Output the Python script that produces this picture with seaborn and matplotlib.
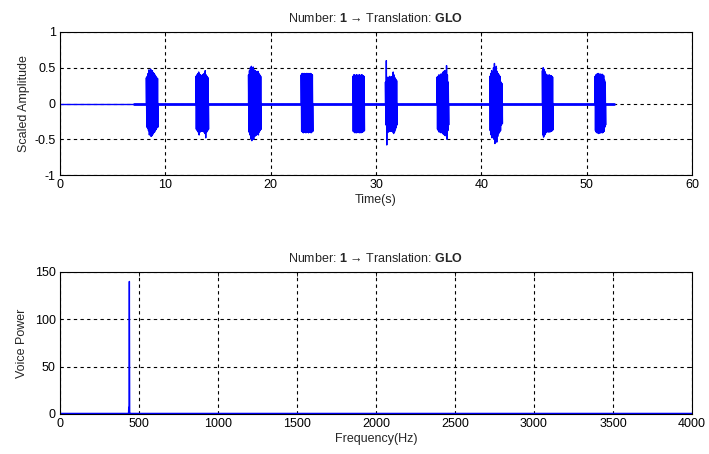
import numpy as np
import pandas as pd
import matplotlib
matplotlib.use("Agg")
import matplotlib.pyplot as plt
import seaborn as sns

# ---------------- data ----------------
quiet_start, quiet_end = 0.0, 7.0          # silent lead-in (s)
signal_end = 52.6                          # end of recording (s)

burst_start = [8.2, 12.9, 17.9, 22.9, 27.8, 30.9, 35.8, 40.8, 45.8, 50.8]
burst_end   = [9.3, 14.1, 19.1, 24.0, 28.9, 32.0, 36.9, 42.0, 46.8, 51.8]

burst_upper = [
    [0.36, 0.38, 0.42, 0.47, 0.44, 0.48, 0.45, 0.46, 0.43, 0.42, 0.40, 0.38, 0.36, 0.35],
    [0.38, 0.40, 0.42, 0.44, 0.41, 0.40, 0.39, 0.40, 0.41, 0.42, 0.46, 0.40, 0.38, 0.36],
    [0.40, 0.46, 0.50, 0.52, 0.48, 0.51, 0.47, 0.46, 0.45, 0.44, 0.45, 0.42, 0.40, 0.38],
    [0.40, 0.42, 0.42, 0.41, 0.42, 0.41, 0.42, 0.42, 0.41, 0.42, 0.41, 0.42, 0.41, 0.40],
    [0.38, 0.40, 0.40, 0.39, 0.40, 0.40, 0.39, 0.40, 0.40, 0.39, 0.40, 0.40, 0.39, 0.38],
    [0.30, 0.60, 0.35, 0.37, 0.36, 0.38, 0.36, 0.37, 0.38, 0.44, 0.40, 0.36, 0.34, 0.32],
    [0.37, 0.38, 0.40, 0.39, 0.41, 0.40, 0.42, 0.44, 0.45, 0.46, 0.42, 0.53, 0.40, 0.30],
    [0.38, 0.42, 0.46, 0.44, 0.50, 0.56, 0.48, 0.52, 0.45, 0.42, 0.40, 0.38, 0.30, 0.28],
    [0.46, 0.50, 0.48, 0.45, 0.42, 0.40, 0.39, 0.40, 0.39, 0.40, 0.39, 0.39, 0.38, 0.37],
    [0.38, 0.40, 0.41, 0.41, 0.42, 0.41, 0.41, 0.41, 0.40, 0.41, 0.40, 0.39, 0.33, 0.30],
]
burst_lower = [
    [-0.33, -0.35, -0.38, -0.44, -0.42, -0.46, -0.45, -0.43, -0.41, -0.40, -0.38, -0.36, -0.34, -0.33],
    [-0.36, -0.38, -0.40, -0.44, -0.40, -0.39, -0.38, -0.39, -0.40, -0.42, -0.48, -0.40, -0.38, -0.36],
    [-0.40, -0.44, -0.49, -0.52, -0.47, -0.50, -0.46, -0.45, -0.44, -0.43, -0.44, -0.40, -0.38, -0.36],
    [-0.39, -0.40, -0.41, -0.40, -0.40, -0.41, -0.40, -0.40, -0.41, -0.40, -0.40, -0.41, -0.40, -0.39],
    [-0.39, -0.40, -0.41, -0.40, -0.41, -0.40, -0.40, -0.41, -0.40, -0.41, -0.40, -0.40, -0.39, -0.38],
    [-0.30, -0.58, -0.38, -0.40, -0.38, -0.39, -0.38, -0.39, -0.40, -0.42, -0.40, -0.37, -0.34, -0.30],
    [-0.36, -0.38, -0.40, -0.39, -0.41, -0.40, -0.42, -0.43, -0.44, -0.45, -0.42, -0.50, -0.38, -0.30],
    [-0.38, -0.44, -0.48, -0.46, -0.50, -0.56, -0.48, -0.54, -0.46, -0.42, -0.40, -0.38, -0.30, -0.28],
    [-0.44, -0.47, -0.45, -0.43, -0.41, -0.40, -0.39, -0.40, -0.39, -0.40, -0.39, -0.39, -0.38, -0.37],
    [-0.38, -0.40, -0.41, -0.41, -0.42, -0.41, -0.41, -0.41, -0.40, -0.41, -0.40, -0.39, -0.33, -0.30],
]

spec_freq  = [0, 430, 434, 435, 437, 439, 441, 446, 4000]
spec_power = [0.6, 0.6, 0.8, 7.0, 1.0, 140.0, 0.8, 0.6, 0.6]

time_ticks = [0, 10, 20, 30, 40, 50, 60]
amp_ticks = [-1, -0.5, 0, 0.5, 1]
amp_ticklabels = ["-1", "-0.5", "0", "0.5", "1"]
freq_ticks = [0, 500, 1000, 1500, 2000, 2500, 3000, 3500, 4000]
power_ticks = [0, 50, 100, 150]

title = "Number: $\\mathbf{1}$ \u2192 Translation: $\\mathbf{GLO}$"

# ---------------- style ----------------
sns.set_style("white")
plt.rcParams["font.family"] = ["Liberation Sans", "DejaVu Sans"]
plt.rcParams["mathtext.fontset"] = "custom"
plt.rcParams["mathtext.rm"] = "Liberation Sans"
plt.rcParams["mathtext.bf"] = "Liberation Sans:bold"
plt.rcParams["mathtext.it"] = "Liberation Sans:italic"
FS = 9
BLUE = "#0000ff"

fig = plt.figure(figsize=(7.09, 4.54), dpi=100)
ax1 = fig.add_axes([60 / 709, 1 - 175 / 454, 632 / 709, 143 / 454])
ax2 = fig.add_axes([60 / 709, 1 - 414 / 454, 632 / 709, 142 / 454])

# ---------------- top: waveform ----------------
sns.lineplot(x=[quiet_start, quiet_end], y=[0, 0], ax=ax1, color=BLUE,
             lw=1.0, estimator=None, sort=False)
sns.lineplot(x=[quiet_end, signal_end], y=[0, 0], ax=ax1, color=BLUE,
             lw=2.0, estimator=None, sort=False)

for s, e, up, lo in zip(burst_start, burst_end, burst_upper, burst_lower):
    n = len(up)
    xs = np.linspace(s, e, 2 * n)
    ys = np.empty(2 * n)
    ys[0::2] = up
    ys[1::2] = lo
    xs = np.concatenate([[s], xs, [e]])
    ys = np.concatenate([[0], ys, [0]])
    sns.lineplot(x=xs, y=ys, ax=ax1, color=BLUE, lw=1.0,
                 estimator=None, sort=False)

ax1.set_xlim(0, 60)
ax1.set_ylim(-1, 1)
ax1.set_xticks(time_ticks)
ax1.set_yticks(amp_ticks)
ax1.set_yticklabels(amp_ticklabels)
ax1.set_xlabel("Time(s)", fontsize=FS, labelpad=2)
ax1.set_ylabel("Scaled Amplitude", fontsize=FS, labelpad=3)
ax1.set_title(title, fontsize=FS, pad=7)

# ---------------- bottom: spectrum ----------------
spec = pd.DataFrame({"freq": spec_freq, "power": spec_power})
sns.lineplot(data=spec, x="freq", y="power", ax=ax2, color=BLUE, lw=1.0,
             estimator=None, sort=False)
ax2.set_xlim(0, 4000)
ax2.set_ylim(0, 150)
ax2.set_xticks(freq_ticks)
ax2.set_yticks(power_ticks)
ax2.set_xlabel("Frequency(Hz)", fontsize=FS, labelpad=2)
ax2.set_ylabel("Voice Power", fontsize=FS, labelpad=5)
ax2.set_title(title, fontsize=FS, pad=7)

for ax in (ax1, ax2):
    ax.set_axisbelow(True)
    ax.grid(True, color="black", linestyle=(0, (3, 3)), linewidth=0.8)
    for sp in ax.spines.values():
        sp.set_color("black")
        sp.set_linewidth(0.8)
        sp.set_zorder(5)
    ax.tick_params(labelsize=FS, direction="in", length=3, width=0.6,
                   top=True, right=True, pad=3, colors="black")

fig.savefig("out.png", dpi=100, facecolor="white")
